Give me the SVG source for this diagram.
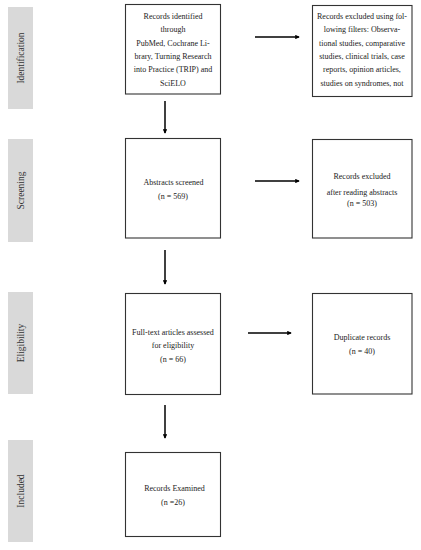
<svg xmlns="http://www.w3.org/2000/svg" width="421" height="550" viewBox="0 0 421 550">
<style>
.bar{fill:#d9d9d9}
.side{font-family:"Liberation Serif","Times New Roman",serif;font-size:9.5px;fill:#333;text-anchor:middle;dominant-baseline:central}
.box{fill:#fff;stroke:#333;stroke-width:1.1}
.t{font-family:"Liberation Serif","Times New Roman",serif;font-size:8px;fill:#222;text-anchor:middle}
.c{stroke:#000;stroke-width:1.5;fill:none;marker-end:url(#ah)}
</style>
<defs>
<marker id="ah" viewBox="0 0 6 6" refX="5" refY="3" markerWidth="3" markerHeight="3" orient="auto" markerUnits="strokeWidth">
<path d="M0,0 L6,3 L0,6 z" fill="#000"/>
</marker>
</defs>
<rect width="421" height="550" fill="#fff"/>
<g id="stages">
<g id="stage-identification"><rect class="bar" x="8" y="7" width="25" height="102"/><text class="side" transform="translate(20.5,58) rotate(-90)">Identification</text></g>
<g id="stage-screening"><rect class="bar" x="8" y="139" width="25" height="103"/><text class="side" transform="translate(20.5,190.5) rotate(-90)">Screening</text></g>
<g id="stage-eligibility"><rect class="bar" x="8" y="292" width="25" height="102"/><text class="side" transform="translate(20.5,343) rotate(-90)">Eligibility</text></g>
<g id="stage-included"><rect class="bar" x="8" y="440" width="25" height="102"/><text class="side" transform="translate(20.5,491) rotate(-90)">Included</text></g>
</g>
<g id="connectors">
<line class="c" x1="255" y1="37" x2="299" y2="37"/>
<line class="c" x1="165" y1="101" x2="165" y2="133"/>
<line class="c" x1="255" y1="181" x2="299" y2="181"/>
<line class="c" x1="165" y1="250" x2="165" y2="284"/>
<line class="c" x1="248" y1="333" x2="291" y2="333"/>
<line class="c" x1="165" y1="405" x2="165" y2="438"/>
</g>
<g id="n-identified">
<rect class="box" x="125.5" y="4.5" width="95" height="89.5"/>
<text class="t" x="173" y="18.5">Records identified</text>
<text class="t" x="173" y="32">through</text>
<text class="t" x="173" y="45.5">PubMed, Cochrane Li-</text>
<text class="t" x="173" y="58.8">brary, Turning Research</text>
<text class="t" x="173" y="72">into Practice (TRIP) and</text>
<text class="t" x="173" y="85.5">SciELO</text>
</g>
<g id="n-excluded-filters">
<rect class="box" x="312.5" y="5.5" width="99.5" height="91"/>
<text class="t" x="362" y="18.5">Records excluded using fol-</text>
<text class="t" x="362" y="32">lowing filters: Observa-</text>
<text class="t" x="362" y="45.5">tional studies, comparative</text>
<text class="t" x="362" y="58.8">studies, clinical trials, case</text>
<text class="t" x="362" y="72">reports, opinion articles,</text>
<text class="t" x="362" y="86">studies on syndromes, not</text>
</g>
<g id="n-screened">
<rect class="box" x="125.5" y="138.5" width="95" height="99.5"/>
<text class="t" x="173.5" y="185">Abstracts screened</text>
<text class="t" x="173" y="198.5">(n = 569)</text>
</g>
<g id="n-excluded-abstracts">
<rect class="box" x="312.5" y="139.5" width="99.5" height="98.5"/>
<text class="t" x="362" y="179">Records excluded</text>
<text class="t" x="362" y="194.5">after reading abstracts</text>
<text class="t" x="362" y="205.5">(n = 503)</text>
</g>
<g id="n-fulltext">
<rect class="box" x="125.5" y="293.5" width="95" height="101"/>
<text class="t" x="173" y="334.5">Full-text articles assessed</text>
<text class="t" x="173" y="348">for eligibility</text>
<text class="t" x="173" y="362">(n = 66)</text>
</g>
<g id="n-duplicates">
<rect class="box" x="312.5" y="293.5" width="99.5" height="100.5"/>
<text class="t" x="362" y="340">Duplicate records</text>
<text class="t" x="362" y="354">(n = 40)</text>
</g>
<g id="n-examined">
<rect class="box" x="125.5" y="452.5" width="95" height="84"/>
<text class="t" x="174.5" y="491">Records Examined</text>
<text class="t" x="173" y="504.5">(n =26)</text>
</g>
</svg>
